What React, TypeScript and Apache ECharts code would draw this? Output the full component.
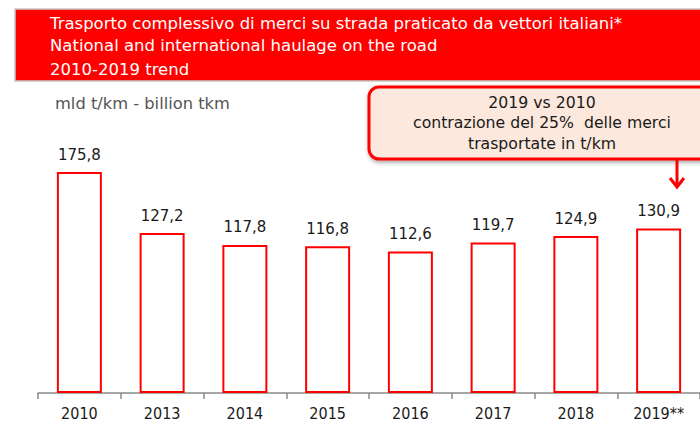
import React, { useEffect, useRef } from "react";
import * as echarts from "echarts";

const categories = ["2010", "2013", "2014", "2015", "2016", "2017", "2018", "2019**"];
const values = [175.8, 127.2, 117.8, 116.8, 112.6, 119.7, 124.9, 130.9];
const titleLines = [
  "Trasporto complessivo di merci su strada praticato da vettori italiani*",
  "National and international haulage on the road",
  "2010-2019 trend",
];
const unitLabel = "mld t/km - billion tkm";
const calloutLines = ["2019 vs 2010", "contrazione del 25%  delle merci", "trasportate in t/km"];

const FONT = "'DejaVu Sans', Verdana, sans-serif";
const FONT_C = "'DejaVu Sans Condensed', 'DejaVu Sans', sans-serif";

export default function App() {
  const ref = useRef<HTMLDivElement>(null);
  useEffect(() => {
    if (!ref.current) return;
    const chart = echarts.init(ref.current, undefined, { renderer: "svg" });
    chart.setOption({
      animation: false,
      backgroundColor: "#ffffff",
      textStyle: { fontFamily: FONT },
      grid: { left: 38, width: 676, top: 141.6, bottom: 29, containLabel: false },
      xAxis: {
        type: "category",
        data: categories,
        axisLine: { lineStyle: { color: "#8a8a8a", width: 1.5 } },
        axisTick: { show: true, length: 6, lineStyle: { color: "#8a8a8a", width: 1.5 } },
        axisLabel: { color: "#1a1a1a", fontSize: 16, margin: 12, fontFamily: FONT_C },
      },
      yAxis: { type: "value", min: 0, max: 200, show: false, splitLine: { show: false } },
      series: [
        {
          type: "bar",
          data: values,
          barWidth: 45,
          itemStyle: { color: "#ffffff", borderColor: "#ff0000", borderWidth: 2 },
          label: {
            show: true,
            position: "top",
            distance: 10,
            color: "#1a1a1a",
            fontSize: 15,
            fontFamily: FONT,
            formatter: (p: any) => p.value.toFixed(1).replace(".", ","),
          },
        },
      ],
      graphic: [
        {
          type: "rect",
          shape: { x: 15, y: 9, width: 700, height: 72 },
          style: {
            fill: "#ff0000",
            stroke: "#c8c8c8",
            lineWidth: 1.5,
          },
        },
        ...titleLines.map((t, i) => ({
          type: "text",
          x: 50,
          y: [23, 45, 69][i],
          style: {
            text: t,
            fill: "#ffffff",
            fontSize: 16.5,
            fontFamily: FONT,
            verticalAlign: "middle",
            align: "left",
          },
        })),
        {
          type: "text",
          x: 55,
          y: 103,
          style: {
            text: unitLabel,
            fill: "#555555",
            fontSize: 16.3,
            fontFamily: FONT,
            verticalAlign: "middle",
          },
        },
        {
          type: "rect",
          shape: { x: 369, y: 87, width: 345, height: 72, r: 10 },
          style: {
            fill: "#fce8dc",
            stroke: "#ff0000",
            lineWidth: 3,
            shadowColor: "rgba(0,0,0,0.35)",
            shadowBlur: 4,
            shadowOffsetX: 1,
            shadowOffsetY: 2,
          },
        },
        ...calloutLines.map((t, i) => ({
          type: "text",
          x: 542,
          y: [102, 122, 143][i],
          style: {
            text: t,
            fill: "#1a1a1a",
            fontSize: 15.7,
            fontFamily: FONT,
            align: "center",
            verticalAlign: "middle",
          },
        })),
        {
          type: "line",
          shape: { x1: 677, y1: 160, x2: 677, y2: 186 },
          style: { stroke: "#ff0000", lineWidth: 3 },
        },
        {
          type: "polyline",
          shape: { points: [[670, 178], [677, 187], [684, 178]] },
          style: { stroke: "#ff0000", lineWidth: 3, fill: "none" },
        },
      ],
    });
    return () => chart.dispose();
  }, []);
  return (
    <div
      ref={ref}
      style={{ position: "fixed", left: 0, top: 0, width: 700, height: 422 }}
    />
  );
}
